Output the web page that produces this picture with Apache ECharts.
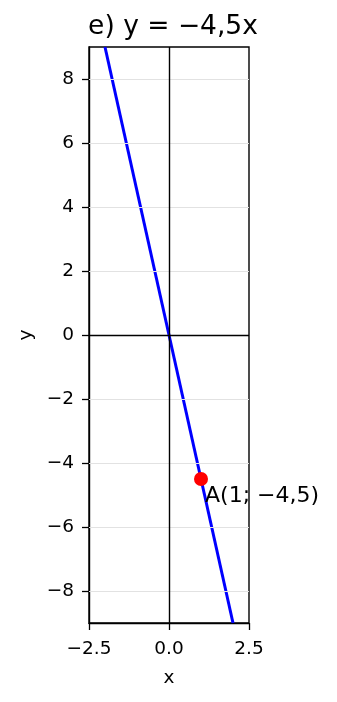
<!DOCTYPE html>
<html><head><meta charset="utf-8">
<script src="https://cdn.jsdelivr.net/npm/echarts@6/dist/echarts.min.js"></script>
<style>html,body{margin:0;padding:0;background:#fff}#c{width:337px;height:702px}</style>
</head><body><div id="c"></div>
<script>
const titleText = 'e) y = \u22124,5x';
const lineXs = [-2, 2];
const lineYs = [9, -9];
const pointA = [1, -4.5];
const pointLabel = 'A(1; \u22124,5)';
const xTicks = [-2.5, 0, 2.5];
const yTicks = [-8, -6, -4, -2, 0, 2, 4, 6, 8];
const xRange = [-2.5, 2.5];
const yRange = [-9, 9];

const F = 'DejaVu Sans';
const minus = s => String(s).replace('-', '\u2212');
const chart = echarts.init(document.getElementById('c'));
chart.setOption({
  animation: false,
  title: { text: titleText, left: 168, top: 9, textAlign: 'center',
    textStyle: { fontFamily: F, fontSize: 26.5, fontWeight: 'normal', color: '#000' } },
  grid: { left: 89, right: 88, top: 47, bottom: 79, show: true, borderColor: '#000', borderWidth: 1.4, backgroundColor: 'transparent' },
  xAxis: { type: 'value', min: xRange[0], max: xRange[1], interval: 2.5,
    name: 'x', nameLocation: 'middle', nameGap: 46,
    nameTextStyle: { fontFamily: F, fontSize: 18.5, color: '#000' },
    axisLine: { show: true, onZero: false, lineStyle: { color: '#000', width: 1.4 } },
    axisTick: { show: true, length: 7, lineStyle: { color: '#000', width: 1.3 }, customValues: xTicks },
    axisLabel: { fontFamily: F, fontSize: 18.5, color: '#000', margin: 17, customValues: xTicks,
      formatter: v => minus(v.toFixed(1)) },
    splitLine: { show: false } },
  yAxis: { type: 'value', min: yRange[0], max: yRange[1],
    name: 'y', nameLocation: 'middle', nameGap: 53, nameRotate: 90,
    nameTextStyle: { fontFamily: F, fontSize: 18.5, color: '#000' },
    axisLine: { show: true, onZero: false, lineStyle: { color: '#000', width: 1.4 } },
    axisTick: { show: true, length: 7, lineStyle: { color: '#000', width: 1.3 }, customValues: yTicks },
    axisLabel: { fontFamily: F, fontSize: 18.5, color: '#000', margin: 15, customValues: yTicks,
      formatter: v => minus(v) },
    splitLine: { show: false } },
  series: [
    { type: 'line', data: [], silent: true,
      markLine: { silent: true, symbol: 'none', label: { show: false },
        lineStyle: { color: '#e2e2e2', width: 1.2, type: 'solid' },
        data: yTicks.filter(v => v !== 0).map(v => ({ yAxis: v })) } },
    { type: 'line', data: [], silent: true,
      markLine: { silent: true, symbol: 'none', label: { show: false },
        lineStyle: { color: '#000', width: 1.4, type: 'solid' },
        data: [{ yAxis: 0 }, { xAxis: 0 }] } },
    { type: 'line', data: lineXs.map((x, i) => [x, lineYs[i]]), showSymbol: false, clip: true,
      lineStyle: { color: '#0000ff', width: 3 }, z: 3 },
    { type: 'scatter', data: [pointA], symbolSize: 14, itemStyle: { color: '#ff0000', opacity: 1 }, z: 4,
      label: { show: true, formatter: pointLabel, position: [11, 13], align: 'left', verticalAlign: 'top',
        fontFamily: F, fontSize: 22, color: '#000' } }
  ]
});
</script></body></html>
